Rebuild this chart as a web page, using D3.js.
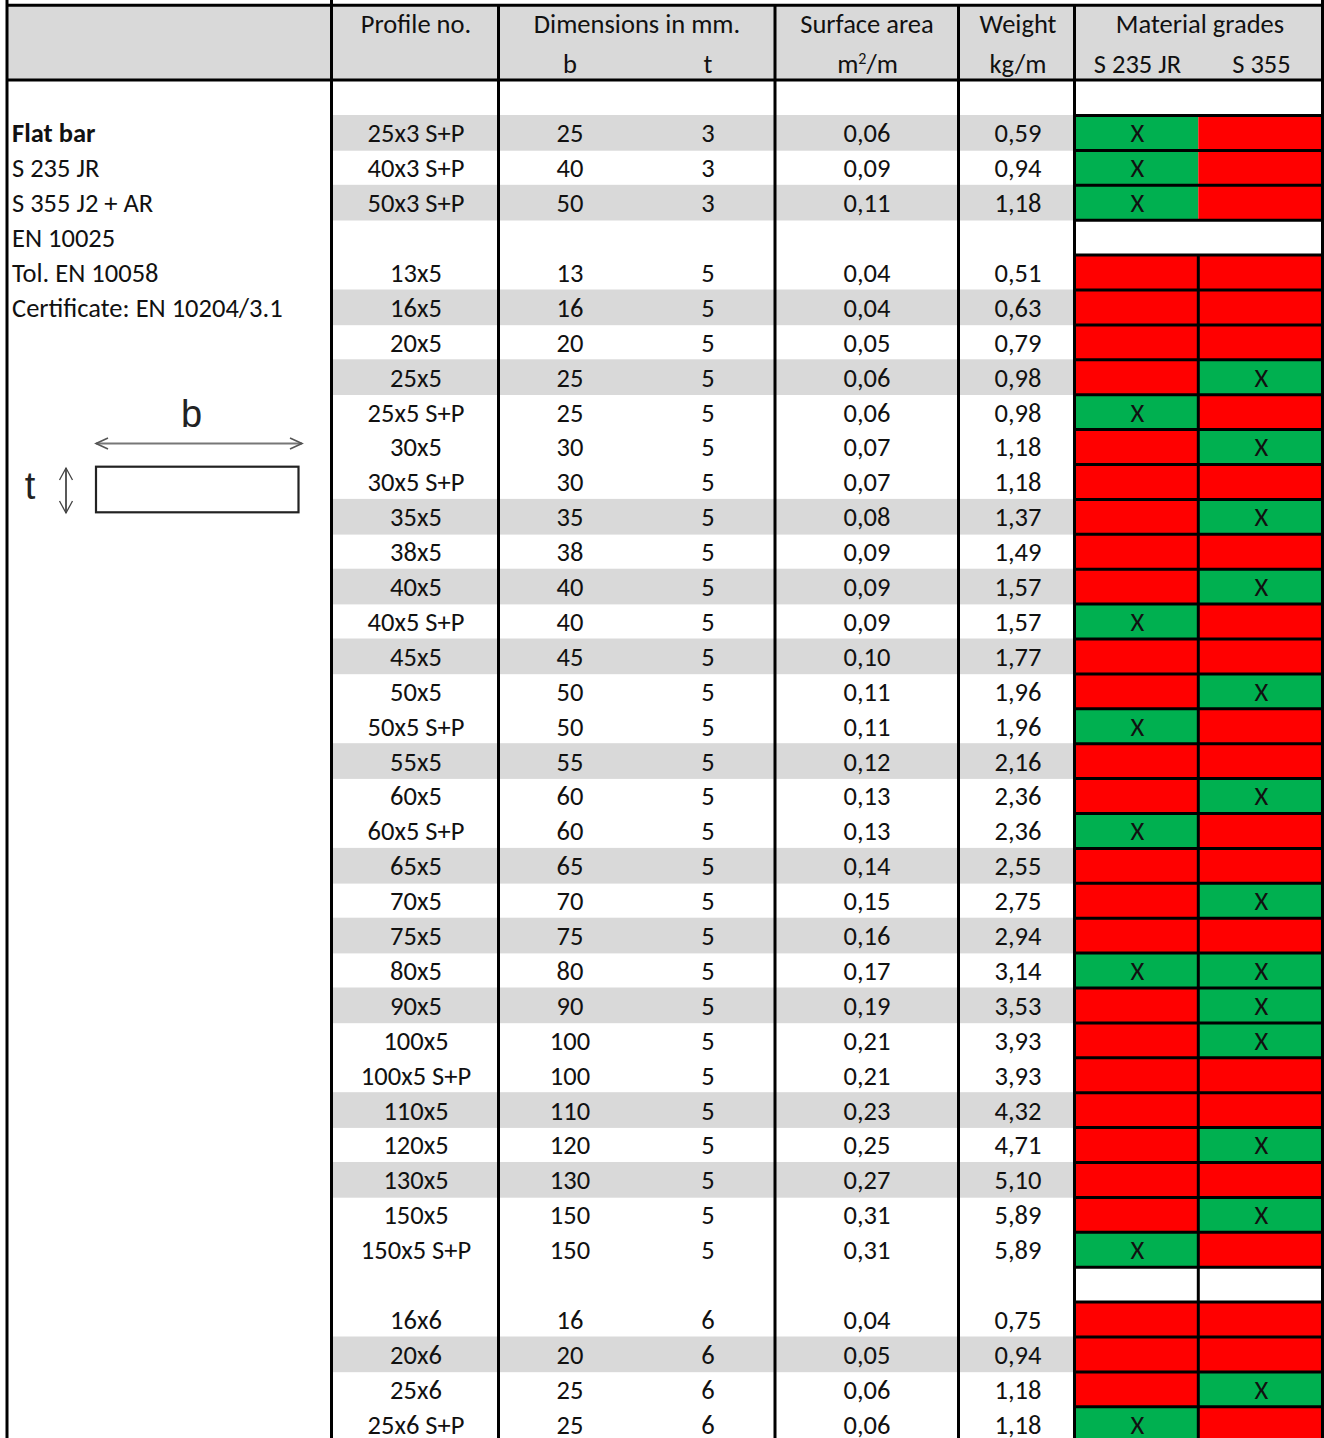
<!DOCTYPE html>
<html>
<head>
<meta charset="utf-8">
<script src="https://cdn.jsdelivr.net/npm/d3@7"></script>
<style>
  html, body { margin: 0; padding: 0; background: #fff; }
  svg { display: block; }
  text { font-family: Carlito, Lato, "Open Sans", sans-serif; font-size: 26.5px; fill: #111; }
</style>
</head>
<body>
<div id="chart"></div>
<script>
// table rows, '' marks the empty spacer rows
const profiles = ['', '25x3 S+P', '40x3 S+P', '50x3 S+P', '', '13x5', '16x5', '20x5', '25x5', '25x5 S+P', '30x5', '30x5 S+P', '35x5', '38x5', '40x5', '40x5 S+P', '45x5', '50x5', '50x5 S+P', '55x5', '60x5', '60x5 S+P', '65x5', '70x5', '75x5', '80x5', '90x5', '100x5', '100x5 S+P', '110x5', '120x5', '130x5', '150x5', '150x5 S+P', '', '16x6', '20x6', '25x6', '25x6 S+P'];
const widths = ['', 25, 40, 50, '', 13, 16, 20, 25, 25, 30, 30, 35, 38, 40, 40, 45, 50, 50, 55, 60, 60, 65, 70, 75, 80, 90, 100, 100, 110, 120, 130, 150, 150, '', 16, 20, 25, 25];
const thicknesses = ['', 3, 3, 3, '', 5, 5, 5, 5, 5, 5, 5, 5, 5, 5, 5, 5, 5, 5, 5, 5, 5, 5, 5, 5, 5, 5, 5, 5, 5, 5, 5, 5, 5, '', 6, 6, 6, 6];
const surfaces = ['', '0,06', '0,09', '0,11', '', '0,04', '0,04', '0,05', '0,06', '0,06', '0,07', '0,07', '0,08', '0,09', '0,09', '0,09', '0,10', '0,11', '0,11', '0,12', '0,13', '0,13', '0,14', '0,15', '0,16', '0,17', '0,19', '0,21', '0,21', '0,23', '0,25', '0,27', '0,31', '0,31', '', '0,04', '0,05', '0,06', '0,06'];
const weights = ['', '0,59', '0,94', '1,18', '', '0,51', '0,63', '0,79', '0,98', '0,98', '1,18', '1,18', '1,37', '1,49', '1,57', '1,57', '1,77', '1,96', '1,96', '2,16', '2,36', '2,36', '2,55', '2,75', '2,94', '3,14', '3,53', '3,93', '3,93', '4,32', '4,71', '5,10', '5,89', '5,89', '', '0,75', '0,94', '1,18', '1,18'];
// 1 = available (green, X), 0 = not available (red), null = empty
const s235 = [null, 1, 1, 1, null, 0, 0, 0, 0, 1, 0, 0, 0, 0, 0, 1, 0, 0, 1, 0, 0, 1, 0, 0, 0, 1, 0, 0, 0, 0, 0, 0, 0, 1, null, 0, 0, 0, 1];
const s355 = [null, 0, 0, 0, null, 0, 0, 0, 1, 0, 1, 0, 1, 0, 1, 0, 0, 1, 0, 0, 1, 0, 0, 1, 0, 1, 1, 1, 0, 0, 1, 0, 1, 0, null, 0, 0, 1, 0];
const shadedRows = ['25x3 S+P', '50x3 S+P', '16x5', '25x5', '35x5', '40x5', '45x5', '55x5', '65x5', '75x5', '90x5', '110x5', '130x5', '20x6'];
const sideNotes = ['S 235 JR', 'S 355 J2 + AR', 'EN 10025', 'Tol. EN 10058', 'Certificate: EN 10204/3.1'];

const width = 1324;
const height = 1438;
const colBlack = '#000';
const colGrey = '#d9d9d9';
const colGreen = '#00b050';
const colRed = '#ff0000';

// column edges (x of the black rules)
const x0 = 7, xProfile = 331.5, xDims = 498.5, xSurface = 775, xWeight = 958.5, xGrades = 1074.5, xMid = 1198.3, xEnd = 1322.5;
const headTop = 5.3, headBottom = 80;

const rowY = d3.scaleBand()
  .domain(d3.range(profiles.length))
  .range([80.1, 80.1 + 34.9 * profiles.length]);
const rowMid = i => rowY(i) + rowY.bandwidth() / 2 + 0.6;

const $svg = d3.select('#chart').append('svg')
  .attr('width', width)
  .attr('height', height);

function addText(x, y, str, anchor) {
  return $svg.append('text')
    .attr('x', x)
    .attr('y', y)
    .attr('dy', '0.35em')
    .attr('text-anchor', anchor || 'middle')
    .text(str);
}

// header band
$svg.append('rect').attr('x', x0).attr('y', headTop).attr('width', xEnd - x0).attr('height', headBottom - headTop).attr('fill', colGrey);

// shaded rows
$svg.selectAll('.shade')
  .data(profiles.map((p, i) => i).filter(i => shadedRows.includes(profiles[i])))
  .enter().append('rect')
  .attr('class', 'shade')
  .attr('x', xProfile)
  .attr('y', i => rowY(i))
  .attr('width', xGrades - xProfile)
  .attr('height', rowY.bandwidth() + 0.8)
  .attr('fill', colGrey);

// grade cells
const gradeCols = [
  { values: s235, x: xGrades, w: xMid - xGrades, textX: 1137.5 },
  { values: s355, x: xMid, w: xEnd - xMid, textX: 1261.5 }
];
gradeCols.forEach(col => {
  $svg.append('g').selectAll('rect')
    .data(col.values)
    .enter().append('rect')
    .attr('x', col.x)
    .attr('y', (d, i) => rowY(i))
    .attr('width', col.w)
    .attr('height', rowY.bandwidth() + 0.8)
    .attr('fill', d => d === null ? '#fff' : d ? colGreen : colRed);
  col.values.forEach((d, i) => {
    if (d === 1) addText(col.textX, rowMid(i), 'X');
  });
});

const lineAt = (x1, y1, x2, y2, w) => $svg.append('line')
  .attr('x1', x1).attr('y1', y1).attr('x2', x2).attr('y2', y2)
  .attr('stroke', colBlack).attr('stroke-width', w);

// grid inside the grades block
profiles.forEach((p, i) => {
  if (i > 0) lineAt(xGrades, rowY(i) + 0.5, xEnd, rowY(i) + 0.5, 3);
});
// the first rows have no divider, it starts at 13x5
lineAt(xMid, rowY(5), xMid, height, 3);

// frame
lineAt(x0, headTop, xEnd, headTop, 3);
lineAt(x0, headBottom, xEnd, headBottom, 3);
[x0, xProfile, xEnd].forEach(x => lineAt(x, 0, x, height, 3));
[xDims, xSurface, xWeight, xGrades].forEach(x => lineAt(x, headTop, x, height, 3));

// header text
const headTopY = 24, headBotY = 63.5;
addText(416, headTopY, 'Profile no.');
addText(637, headTopY, 'Dimensions in mm.');
addText(867, headTopY, 'Surface area');
addText(1018, headTopY, 'Weight');
addText(1200, headTopY, 'Material grades');
addText(570, headBotY, 'b');
addText(708, headBotY, 't');
const $m2 = addText(867.5, headBotY, 'm');
$m2.append('tspan').attr('dy', -9).style('font-size', '16px').text('2');
$m2.append('tspan').attr('dy', 9).text('/m');
addText(1018, headBotY, 'kg/m');
addText(1137.5, headBotY, 'S 235 JR');
addText(1261.5, headBotY, 'S 355');

// body text
const bodyCols = [
  { values: profiles, x: 416 },
  { values: widths, x: 570 },
  { values: thicknesses, x: 708 },
  { values: surfaces, x: 867 },
  { values: weights, x: 1018 }
];
bodyCols.forEach(col => {
  col.values.forEach((v, i) => {
    if (v !== '') addText(col.x, rowMid(i), v);
  });
});

// left notes
addText(12, rowMid(1), 'Flat bar', 'start').style('font-weight', 'bold');
sideNotes.forEach((s, i) => addText(12, rowMid(i + 2), s, 'start'));

// profile sketch
$svg.append('rect').attr('x', 96).attr('y', 466.7).attr('width', 202.5).attr('height', 45.6)
  .attr('fill', 'none').attr('stroke', '#222').attr('stroke-width', 2.2);
lineAt(96, 443.5, 302, 443.5, 2).attr('stroke', '#777');
$svg.append('path').attr('d', 'M108,438L96,443.5L108,449M290,438L302,443.5L290,449')
  .attr('fill', 'none').attr('stroke', '#555').attr('stroke-width', 1.6);
lineAt(66, 468, 66, 513, 1.5).attr('stroke', '#222');
$svg.append('path').attr('d', 'M59.5,480L66,468L72.5,480M59.5,501L66,513L72.5,501')
  .attr('fill', 'none').attr('stroke', '#444').attr('stroke-width', 1.3);
addText(191.5, 413.5, 'b').attr('dy', '0.36em').style('font-family', '"Liberation Sans", sans-serif').style('font-size', '38px').style('fill', '#222');
addText(30, 485.5, 't').attr('dy', '0.36em').style('font-family', '"Liberation Sans", sans-serif').style('font-size', '38px').style('fill', '#222');
</script>
</body>
</html>
